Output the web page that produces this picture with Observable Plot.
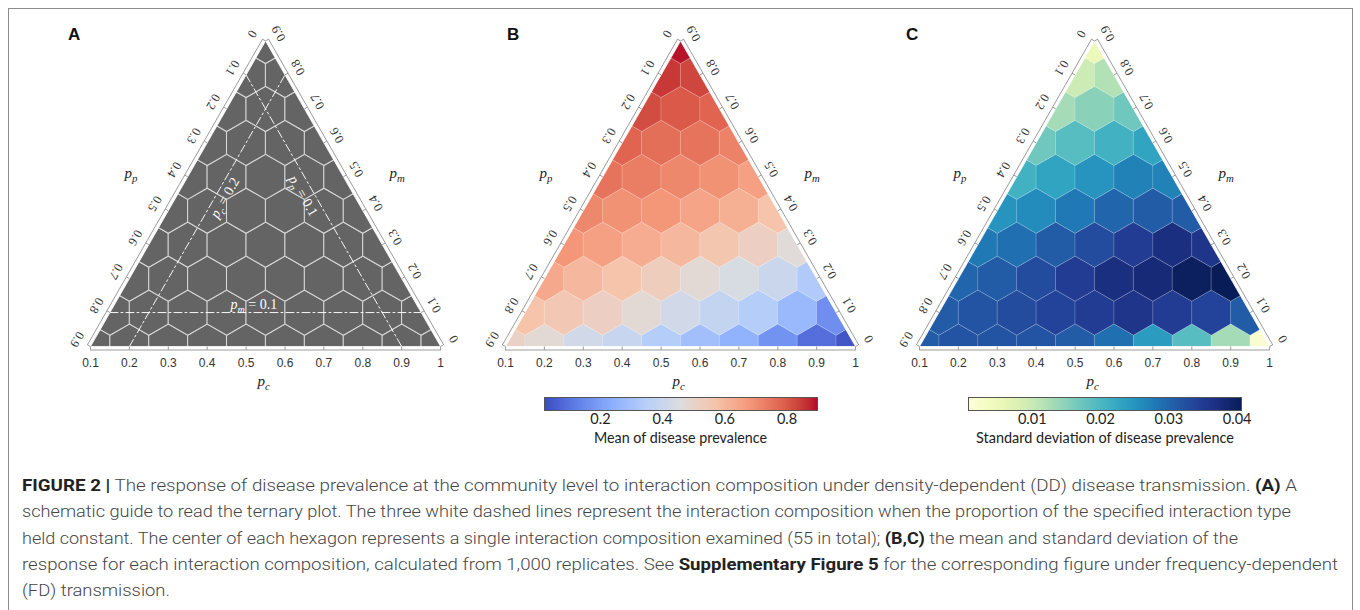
<!DOCTYPE html>
<html>
<head>
<meta charset="utf-8">
<script src="https://cdn.jsdelivr.net/npm/d3@7"></script>
<script src="https://cdn.jsdelivr.net/npm/@observablehq/plot@0.6"></script>
<style>
  html, body { margin: 0; padding: 0; background: #fff; }
  #fig { position: relative; width: 1360px; height: 610px; overflow: hidden; background: #fff; }
  .border { position: absolute; left: 8px; top: 8px; width: 1345px; height: 700px; border: 1px solid #8c8c8c; box-sizing: border-box; z-index: 5; pointer-events: none; }
  .abs { position: absolute; top: 0; }
  .letter { position: absolute; font: bold 17px/17px "Liberation Sans", Arial, sans-serif; color: #111; z-index: 4; }
  .cbtitle { position: absolute; font: 15px/18px Lato, "Open Sans", sans-serif; color: #222; white-space: nowrap; transform-origin: 0 50%; }
  .caption { position: absolute; left: 22px; top: 473px; font-family: Roboto, "Liberation Sans", sans-serif; font-weight: 300; font-size: 16px; line-height: 26.3px; color: #454545; }
  .caption .ln { white-space: nowrap; height: 26.3px; }
  .caption .ln span { display: inline-block; transform-origin: 0 50%; }
  .caption b { font-weight: 700; color: #222; }
</style>
</head>
<body>
<div id="fig">
  <div id="panelA" class="abs"></div>
  <div id="panelB" class="abs"></div>
  <div id="panelC" class="abs"></div>
  <div id="cbB" class="abs"></div>
  <div id="cbC" class="abs"></div>
  <div class="border"></div>
  <div class="letter" style="left:68px;top:26px">A</div>
  <div class="letter" style="left:507px;top:26px">B</div>
  <div class="letter" style="left:906px;top:26px">C</div>
  <div id="cbtB" class="cbtitle">Mean of disease prevalence</div>
  <div id="cbtC" class="cbtitle">Standard deviation of disease prevalence</div>
  <div class="caption" id="caption">
    <div class="ln"><span><b>FIGURE 2 |</b> The response of disease prevalence at the community level to interaction composition under density-dependent (DD) disease transmission. <b>(A)</b> A</span></div>
    <div class="ln"><span>schematic guide to read the ternary plot. The three white dashed lines represent the interaction composition when the proportion of the specified interaction type</span></div>
    <div class="ln"><span>held constant. The center of each hexagon represents a single interaction composition examined (55 in total); <b>(B,C)</b> the mean and standard deviation of the</span></div>
    <div class="ln"><span>response for each interaction composition, calculated from 1,000 replicates. See <b>Supplementary Figure 5</b> for the corresponding figure under frequency-dependent</span></div>
    <div class="ln"><span>(FD) transmission.</span></div>
  </div>
</div>
<script>
// ---------------- data ----------------
const pcTicks = [0.1, 0.2, 0.3, 0.4, 0.5, 0.6, 0.7, 0.8, 0.9, 1];
const ppTicks = [0, 0.1, 0.2, 0.3, 0.4, 0.5, 0.6, 0.7, 0.8, 0.9];
const pmTicks = [0, 0.1, 0.2, 0.3, 0.4, 0.5, 0.6, 0.7, 0.8, 0.9];
const pmLevels = [0, 0.1, 0.2, 0.3, 0.4, 0.5, 0.6, 0.7, 0.8, 0.9];

// mean disease prevalence, one row per pm level, pc ascending from 0.1
const meanRows = [
  [0.51, 0.48, 0.42, 0.39, 0.34, 0.29, 0.25, 0.17, 0.09, 0.04],
  [0.57, 0.55, 0.52, 0.48, 0.42, 0.38, 0.34, 0.27, 0.16],
  [0.64, 0.60, 0.57, 0.53, 0.48, 0.44, 0.40, 0.33],
  [0.68, 0.66, 0.63, 0.60, 0.56, 0.52, 0.47],
  [0.71, 0.69, 0.68, 0.65, 0.62, 0.57],
  [0.75, 0.73, 0.71, 0.69, 0.66],
  [0.78, 0.76, 0.75, 0.72],
  [0.82, 0.80, 0.78],
  [0.85, 0.83],
  [0.89]
];
// standard deviation of disease prevalence
const sdRows = [
  [0.031, 0.032, 0.032, 0.032, 0.031, 0.029, 0.024, 0.019, 0.013, 0.002],
  [0.031, 0.032, 0.033, 0.034, 0.035, 0.036, 0.035, 0.034, 0.031],
  [0.030, 0.031, 0.033, 0.035, 0.037, 0.038, 0.040, 0.041],
  [0.028, 0.029, 0.031, 0.033, 0.035, 0.037, 0.036],
  [0.025, 0.026, 0.028, 0.030, 0.031, 0.031],
  [0.021, 0.023, 0.025, 0.027, 0.027],
  [0.017, 0.019, 0.021, 0.023],
  [0.013, 0.015, 0.017],
  [0.0095, 0.012],
  [0.005]
];

const meanDomain = [0.02, 0.898];
const sdDomain = [0.00067, 0.04064];
const meanTicks = [0.2, 0.4, 0.6, 0.8];
const sdTicks = [0.01, 0.02, 0.03, 0.04];
const coolwarmStops = ["#3b4cc0", "#6282ea", "#8db0fe", "#b8d0f9", "#dddddd", "#f5c4ac", "#f4987a", "#de604d", "#b40426"];

const guideLines = [
  {label: "p_c = 0.2", kind: "pc", value: 0.2, at: 0.45, rotate: -60, dx: 8, dy: 4},
  {label: "p_p = 0.1", kind: "pp", value: 0.1, at: 0.45, rotate: 60, dx: -11, dy: 2},
  {label: "p_m = 0.1", kind: "pm", value: 0.1, at: 0.47, rotate: 0, dx: 0, dy: -8}
];

// ---------------- geometry ----------------
const S3 = Math.sqrt(3) / 2;
const PX = 389, PY = 392, BASE = 346, OFF = 45, SVGW = 428, SVGH = 392;
const vertexX = {A: 90, B: 505, C: 918.5};
const GAP = 3.5;

function tern(pc, pm) { return {X: pc + pm / 2, Y: pm * S3}; }

function cellsFrom(rows) {
  return rows.flatMap((row, i) => row.map((v, j) => {
    const pm = pmLevels[i], pc = pcTicks[j];
    return {pm, pc, value: v, ...tern(pc, pm)};
  }));
}

function guideSegment(g) {
  if (g.kind === "pc") return [tern(g.value, 0), tern(g.value, 1 - g.value)];
  if (g.kind === "pp") return [tern(0.1, 0.9 - g.value), tern(1 - g.value, 0)];
  return [tern(0.1, g.value), tern(1 - g.value, g.value)];
}
function guideLabelPos(g) {
  if (g.kind === "pc") return tern(g.value, g.at);
  if (g.kind === "pp") return tern(1 - g.value - g.at, g.at);
  return tern(g.at, g.value);
}

const serif = "'Liberation Serif', 'DejaVu Serif', serif";
const sans = "'Liberation Sans', Arial, sans-serif";

function ternaryPanel(cells, hex, colorOpts, extra = []) {
  const AP = tern(0.1, 0.9), BL = tern(0.1, 0), BR = tern(1, 0);
  const h = 0.2, v = 0.1;
  const poly = (pts, id) => pts.map(p => ({...p, id}));
  const masks = [
    ...poly([{X: AP.X + 0.01, Y: AP.Y + v}, {X: AP.X + 0.01, Y: AP.Y}, AP, BL, {X: BL.X, Y: -v}, {X: BL.X - h, Y: -v}, {X: AP.X - h, Y: AP.Y + v}], "L"),
    ...poly([{X: AP.X - 0.01, Y: AP.Y + v}, {X: AP.X - 0.01, Y: AP.Y}, AP, BR, {X: BR.X, Y: -v}, {X: BR.X + h, Y: -v}, {X: AP.X + h, Y: AP.Y + v}], "R"),
    ...poly([{X: BL.X - 0.02, Y: 0}, {X: BR.X + 0.02, Y: 0}, {X: BR.X + 0.02, Y: -v}, {X: BL.X - 0.02, Y: -v}], "B"),
    ...poly([{X: AP.X - 0.08, Y: AP.Y}, {X: AP.X + 0.08, Y: AP.Y}, {X: AP.X + 0.08, Y: AP.Y + v}, {X: AP.X - 0.08, Y: AP.Y + v}], "T")
  ];
  const gx = GAP / PX, gy = GAP / PY;
  const axisStyle = {stroke: "#9b9b9b", strokeWidth: 1};
  const tickStyle = {stroke: "#9b9b9b", strokeWidth: 1};
  const leftMid = tern(0.1, 0.45), rightMid = tern(0.55, 0.45), botMid = tern(0.55, 0);
  return Plot.plot({
    width: SVGW, height: SVGH, margin: 0,
    x: {domain: [0.1, 1], range: [OFF, OFF + 0.9 * PX], axis: null},
    y: {domain: [0, 0.9 * S3], range: [BASE, BASE - 0.9 * S3 * PY], axis: null},
    color: colorOpts,
    style: {background: "transparent"},
    marks: [
      Plot.dot(cells, {x: "X", y: "Y", r: 19.6, symbol: "hexagon", ...hex}),
      ...extra,
      Plot.line(masks, {x: "X", y: "Y", z: "id", fill: "white", stroke: "white", strokeWidth: 0.8}),
      // axis lines
      Plot.line([AP, BL], {x: "X", y: "Y", ...axisStyle, dx: -GAP * S3, dy: -GAP * 0.5}),
      Plot.line([BL, BR], {x: "X", y: "Y", ...axisStyle, dy: GAP}),
      Plot.line([BR, AP], {x: "X", y: "Y", ...axisStyle, dx: GAP * S3, dy: -GAP * 0.5}),
      // ticks
      Plot.link(pcTicks, {x1: d => tern(d, 0).X, y1: d => 0, x2: d => tern(d, 0).X, y2: d => -gy, ...tickStyle}),
      Plot.link(ppTicks, {x1: d => tern(0.1, 0.9 - d).X, y1: d => tern(0.1, 0.9 - d).Y,
        x2: d => tern(0.1, 0.9 - d).X - gx * S3, y2: d => tern(0.1, 0.9 - d).Y + gy * 0.5, ...tickStyle}),
      Plot.link(pmTicks, {x1: d => tern(1 - d, d).X, y1: d => tern(1 - d, d).Y,
        x2: d => tern(1 - d, d).X + gx * S3, y2: d => tern(1 - d, d).Y + gy * 0.5, ...tickStyle}),
      // tick labels
      Plot.text(pcTicks, {x: d => tern(d, 0).X, y: d => 0, text: d => String(d), dy: 17,
        fontFamily: sans, fontSize: 12, fill: "#333"}),
      Plot.text(ppTicks, {x: d => tern(0.1, 0.9 - d).X, y: d => tern(0.1, 0.9 - d).Y, text: d => String(d),
        rotate: 120, dx: -13.5, dy: -7, fontFamily: serif, fontSize: 12.5, fill: "#333"}),
      Plot.text(pmTicks, {x: d => tern(1 - d, d).X, y: d => tern(1 - d, d).Y, text: d => String(d),
        rotate: -120, dx: 13, dy: -7.5, fontFamily: serif, fontSize: 12.5, fill: "#333"}),
      // axis titles
      Plot.text([leftMid], {x: "X", y: "Y", text: d => "p_p", dx: -47, dy: -21, fontFamily: serif, fontSize: 15, fill: "#222"}),
      Plot.text([rightMid], {x: "X", y: "Y", text: d => "p_m", dx: 44, dy: -21, fontFamily: serif, fontSize: 15, fill: "#222"}),
      Plot.text([botMid], {x: "X", y: "Y", text: d => "p_c", dx: -2, dy: 35, fontFamily: serif, fontSize: 15, fill: "#222"})
    ]
  });
}

function subscripts(svg) {
  d3.select(svg).selectAll("text").each(function() {
    const t = this.textContent;
    const m = /^p_([a-z])(.*)$/.exec(t);
    if (!m) return;
    const sel = d3.select(this);
    sel.text(null);
    sel.append("tspan").attr("font-style", "italic").text("p");
    sel.append("tspan").attr("font-style", "italic").attr("font-size", "72%").attr("dy", 4).text(m[1]);
    if (m[2]) sel.append("tspan").attr("dy", -4).text(m[2]);
  });
}

function place(id, node, left, top) {
  const el = document.getElementById(id);
  el.style.left = left + "px";
  el.style.top = top + "px";
  el.appendChild(node);
}

// ---------------- panels ----------------
const guideData = guideLines.flatMap((g, i) => guideSegment(g).map(p => ({...p, id: i})));
const guideMarks = [
  Plot.line(guideData, {x: "X", y: "Y", z: "id", stroke: "white", strokeWidth: 1, strokeDasharray: "8,3,2,3", strokeOpacity: 0.95}),
  ...guideLines.map(g => Plot.text([g], {
    x: d => guideLabelPos(d).X, y: d => guideLabelPos(d).Y, text: "label",
    rotate: g.rotate, dx: g.dx, dy: g.dy, fontFamily: serif, fontSize: 14, fill: "white"
  }))
];
const cellsMean = cellsFrom(meanRows);
const cellsSd = cellsFrom(sdRows);

const coolwarm = d3.piecewise(d3.interpolateLab, coolwarmStops);
const meanColor = {type: "linear", domain: meanDomain, interpolate: coolwarm};
const sdColor = {type: "linear", domain: sdDomain, scheme: "ylgnbu"};

const pA = ternaryPanel(cellsMean, {fill: "#646464", stroke: "#d6d6d6", strokeWidth: 1.1}, undefined, guideMarks);
subscripts(pA);
place("panelA", pA, vertexX.A - OFF, 0);

const pB = ternaryPanel(cellsMean, {fill: "value", stroke: "white", strokeOpacity: 0.25, strokeWidth: 0.8}, meanColor);
subscripts(pB);
place("panelB", pB, vertexX.B - OFF, 0);

const pC = ternaryPanel(cellsSd, {fill: "value", stroke: "white", strokeOpacity: 0.25, strokeWidth: 0.8}, sdColor);
subscripts(pC);
place("panelC", pC, vertexX.C - OFF, 0);

// ---------------- colorbars ----------------
function colorbar(colorOpts, domain, ticks) {
  const W = 273;
  return Plot.plot({
    width: W + 40, height: 34, marginLeft: 20, marginRight: 20, marginTop: 0, marginBottom: 21,
    x: {domain, axis: null}, y: {domain: [0, 1], axis: null},
    color: colorOpts,
    style: {background: "transparent", overflow: "visible"},
    marks: [
      Plot.raster({fill: (x, y) => x, x1: domain[0], x2: domain[1], y1: 0, y2: 1}),
      Plot.frame({stroke: "#555", strokeWidth: 1}),
      Plot.text(ticks, {x: d => d, frameAnchor: "bottom", lineAnchor: "middle", dy: 8.5, text: d => String(d),
        fontFamily: "Lato, 'Open Sans', sans-serif", fontSize: 14.5, fill: "#222"})
    ]
  });
}
place("cbB", colorbar(meanColor, meanDomain, meanTicks), 544 - 20, 397);
place("cbC", colorbar(sdColor, sdDomain, sdTicks), 968 - 20, 397);

// ---------------- text fitting ----------------
function fit(el, target) {
  const w = el.getBoundingClientRect().width;
  if (w > 0) el.style.transform = `scaleX(${target / w})`;
  return target / w;
}
function fitTitle(id, center, width, cy) {
  const el = document.getElementById(id);
  el.style.left = (center - width / 2) + "px";
  el.style.top = (cy - 9) + "px";
  fit(el, width);
}
fitTitle("cbtB", 680, 173, 437);
fitTitle("cbtC", 1105, 258, 437);

const targets = [1275, 1269, 1216, 1316];
const spans = document.querySelectorAll("#caption .ln span");
let scales = [];
spans.forEach((s, i) => { if (i < targets.length) scales.push(fit(s, targets[i])); });
const avg = d3.mean(scales);
spans[4].style.transform = `scaleX(${avg})`;
</script>
</body>
</html>
